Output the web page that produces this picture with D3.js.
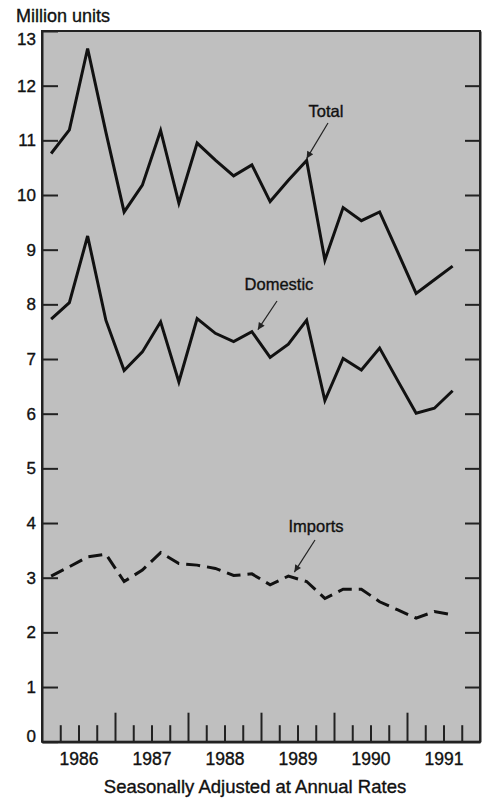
<!DOCTYPE html>
<html>
<head>
<meta charset="utf-8">
<script src="https://cdn.jsdelivr.net/npm/d3@7"></script>
<style>
  body { margin: 0; background: #fff; }
  svg { display: block; font-family: 'Liberation Sans', Arial, Helvetica, sans-serif; }
  text { stroke: #111; stroke-width: 0.35px; }
</style>
</head>
<body>
<div id="chart"></div>
<script>
// quarterly observations, seasonally adjusted at annual rates (million units)
const periods = ['1986-Q1','1986-Q2','1986-Q3','1986-Q4','1987-Q1','1987-Q2','1987-Q3','1987-Q4',
  '1988-Q1','1988-Q2','1988-Q3','1988-Q4','1989-Q1','1989-Q2','1989-Q3','1989-Q4',
  '1990-Q1','1990-Q2','1990-Q3','1990-Q4','1991-Q1','1991-Q2','1991-Q3']
const total = [10.76, 11.19, 12.68, 11.15, 9.69, 10.18, 11.18, 9.85, 10.95, 10.64, 10.35, 10.55,
  9.88, 10.27, 10.63, 8.81, 9.77, 9.53, 9.69, 8.95, 8.20, 8.45, 8.70]
const domestic = [7.73, 8.03, 9.25, 7.71, 6.79, 7.13, 7.68, 6.58, 7.74, 7.47, 7.32, 7.50,
  7.03, 7.27, 7.71, 6.24, 7.01, 6.80, 7.20, 6.60, 6.01, 6.10, 6.42]
const imports = [3.03, 3.20, 3.38, 3.43, 2.93, 3.14, 3.46, 3.26, 3.23, 3.17, 3.04, 3.07,
  2.87, 3.03, 2.93, 2.62, 2.79, 2.79, 2.56, 2.41, 2.26, 2.38, 2.32]
const yearLabels = ['1986','1987','1988','1989','1990','1991']
const yTicks = [0,1,2,3,4,5,6,7,8,9,10,11,12,13]

const width = 482
const height = 799
const plot = { left: 42, right: 480, top: 31, bottom: 741.7 }

// position of a quarter = middle of the quarter
const toX = p => +p.slice(0,4) + (+p.slice(6) - 0.5) / 4

const x = d3.scaleLinear().domain([1986, 1992]).range([plot.left, plot.right])
const y = d3.scaleLinear().domain([0, 13]).range([plot.bottom, plot.top])

const svg = d3.select('#chart')
  .append('svg')
  .attr('width', width)
  .attr('height', height)

// shaded plot background
svg.append('rect')
  .attr('x', plot.left).attr('y', plot.top)
  .attr('width', plot.right - plot.left).attr('height', plot.bottom - plot.top)
  .attr('fill', '#bfbfbf')
  .attr('stroke', '#222')
  .attr('stroke-width', 2)

// left axis with inward ticks
const yLeft = svg.append('g')
  .attr('transform', `translate(${plot.left},0)`)
  .call(d3.axisLeft(y).tickValues(yTicks).tickSizeInner(-16).tickSizeOuter(0).tickPadding(6))
yLeft.select('.domain').attr('stroke', '#222').attr('stroke-width', 2)
yLeft.selectAll('line').attr('stroke', '#222').attr('stroke-width', 2)
yLeft.selectAll('text').attr('fill', '#111').style('font-size', '17px')
// end labels sit just inside the frame
yLeft.selectAll('.tick text')
  .attr('y', d => d === 13 ? 8 : d === 0 ? -6 : 0)

// right axis ticks only
const yRight = svg.append('g')
  .attr('transform', `translate(${plot.right},0)`)
  .call(d3.axisRight(y).tickValues(yTicks.slice(1, -1)).tickSizeInner(-15).tickSizeOuter(0).tickFormat(''))
yRight.select('.domain').attr('stroke', '#222').attr('stroke-width', 2)
yRight.selectAll('line').attr('stroke', '#222').attr('stroke-width', 2)

// bottom: quarter ticks, year ticks, year labels
const quarterBounds = d3.range(1986.25, 1992, 0.25).filter(v => v % 1 !== 0)
const yearBounds = d3.range(1987, 1992)

const xq = svg.append('g')
  .attr('transform', `translate(0,${plot.bottom})`)
  .call(d3.axisBottom(x).tickValues(quarterBounds).tickSizeInner(-16.5).tickSizeOuter(0).tickFormat(''))
xq.select('.domain').remove()
xq.selectAll('line').attr('stroke', '#222').attr('stroke-width', 2)

const xy = svg.append('g')
  .attr('transform', `translate(0,${plot.bottom})`)
  .call(d3.axisBottom(x).tickValues(yearBounds).tickSizeInner(-29).tickSizeOuter(0).tickFormat(''))
xy.select('.domain').remove()
xy.selectAll('line').attr('stroke', '#222').attr('stroke-width', 2)

const xl = svg.append('g')
  .attr('transform', `translate(0,${plot.bottom})`)
  .call(d3.axisBottom(x).tickValues(yearLabels.map(d => +d + 0.5)).tickSize(0).tickPadding(11)
    .tickFormat((d, i) => yearLabels[i]))
xl.select('.domain').attr('stroke', '#222').attr('stroke-width', 2.5)
xl.selectAll('text').attr('fill', '#111').style('font-size', '17.5px')

// series
const line = d3.line()
  .x((d, i) => x(toX(periods[i])))
  .y(d => y(d))

svg.append('path')
  .datum(total)
  .attr('d', line)
  .attr('fill', 'none')
  .attr('stroke', '#111')
  .attr('stroke-width', 3)

svg.append('path')
  .datum(domestic)
  .attr('d', line)
  .attr('fill', 'none')
  .attr('stroke', '#111')
  .attr('stroke-width', 3)

svg.append('path')
  .datum(imports)
  .attr('d', line)
  .attr('fill', 'none')
  .attr('stroke', '#111')
  .attr('stroke-width', 3)
  .attr('stroke-dasharray', '14,7')

// arrowhead marker
svg.append('defs').append('marker')
  .attr('id', 'arrow')
  .attr('viewBox', '0 0 10 10')
  .attr('refX', 10).attr('refY', 5)
  .attr('markerWidth', 9).attr('markerHeight', 7)
  .attr('markerUnits', 'userSpaceOnUse')
  .attr('orient', 'auto')
  .append('path')
  .attr('d', 'M0,0L10,5L0,10Z')
  .attr('fill', '#222')

// labels with pointers
const notes = [
  { text: 'Total', lx: 326, ly: 117, from: [328, 123], idx: 14, series: total, off: [0, -2] },
  { text: 'Domestic', lx: 279, ly: 290, from: [277, 301], idx: 11, series: domestic, off: [6, -2] },
  { text: 'Imports', lx: 316, ly: 532, from: [315, 540], idx: 13, series: imports, off: [6, -4] }
]

notes.forEach(n => {
  const tx = x(toX(periods[n.idx])) + n.off[0]
  const ty = y(n.series[n.idx]) + n.off[1]
  svg.append('text')
    .attr('x', n.lx).attr('y', n.ly)
    .attr('text-anchor', 'middle')
    .attr('fill', '#111')
    .style('font-size', '16.5px')
    .text(n.text)
  svg.append('line')
    .attr('x1', n.from[0]).attr('y1', n.from[1])
    .attr('x2', tx).attr('y2', ty)
    .attr('stroke', '#222')
    .attr('stroke-width', 1.2)
    .attr('marker-end', 'url(#arrow)')
})

// titles
svg.append('text')
  .attr('x', 16).attr('y', 22)
  .attr('fill', '#111')
  .style('font-size', '18px')
  .text('Million units')

svg.append('text')
  .attr('x', 255).attr('y', 793)
  .attr('text-anchor', 'middle')
  .attr('fill', '#111')
  .style('font-size', '18.5px')
  .text('Seasonally Adjusted at Annual Rates')
</script>
</body>
</html>
